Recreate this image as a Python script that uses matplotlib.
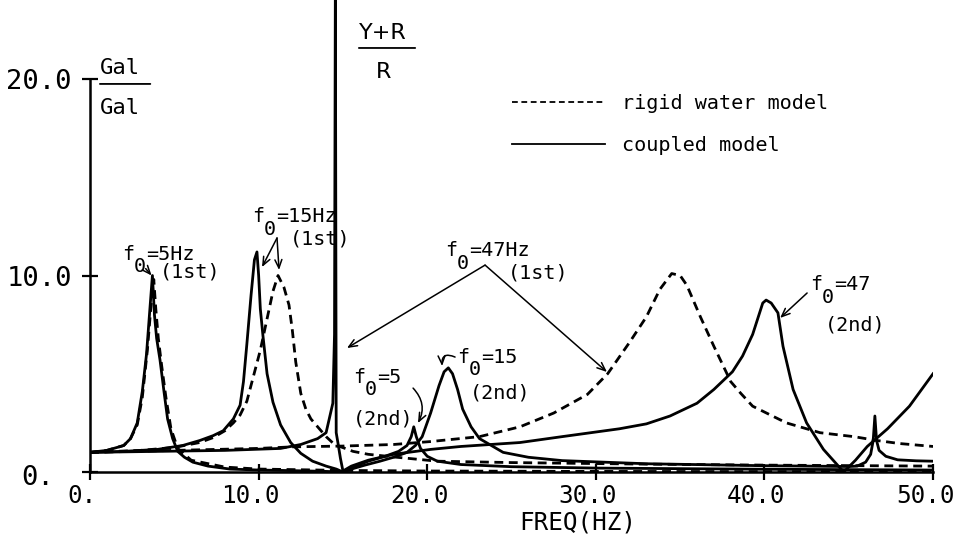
import matplotlib
matplotlib.use("Agg")
import matplotlib.pyplot as plt
from matplotlib.lines import Line2D
from matplotlib.transforms import ScaledTranslation

# --- response curves (freq in Hz, amplification Gal/Gal) ---

# coupled model, f0 = 5 Hz (1st peak ~3.7, 2nd peak ~19.2)
c5_freq = [0, 1, 2, 2.4, 2.8, 3.1, 3.35, 3.55, 3.7, 3.82, 3.95, 4.15, 4.4, 4.6, 4.9, 5.2,
           5.6, 6.1, 7.0, 8.3, 10, 12, 14, 15.0, 15.6, 16.5, 17.5, 18.3, 18.8, 19.05, 19.2,
           19.35, 19.6, 20.0, 20.6, 22, 25, 30, 35, 40, 45, 50]
c5_amp = [1.0, 1.1, 1.35, 1.7, 2.5, 4.1, 6.0, 8.3, 10.0, 8.0, 6.8, 5.7, 4.0, 2.7, 1.7, 1.05,
          0.75, 0.5, 0.3, 0.15, 0.1, 0.07, 0.03, 0.0, 0.25, 0.55, 0.8, 1.05, 1.35, 1.8, 2.3,
          1.8, 1.2, 0.8, 0.55, 0.38, 0.27, 0.2, 0.17, 0.14, 0.12, 0.1]

# coupled model, f0 = 15 Hz (1st ~9.9, 2nd ~21.2, 3rd spike ~46.5)
c15_freq = [0, 2, 4, 5.5, 6.5, 7.3, 7.9, 8.5, 8.9, 9.1, 9.3, 9.55, 9.75, 9.9, 10.0, 10.1,
            10.26, 10.5, 10.85, 11.3, 11.9, 12.5, 13.2, 14.0, 14.6, 15.0, 15.5, 16.3, 17.2,
            18.0, 18.8, 19.3, 19.7, 20.2, 20.7, 21.0, 21.25, 21.5, 21.8, 22.1, 22.6, 23.1,
            24.5, 26, 28, 33, 40, 45, 45.5, 46.0, 46.3, 46.45, 46.55, 46.65, 46.8, 47.2,
            47.9, 49, 50]
c15_amp = [1.0, 1.05, 1.15, 1.35, 1.6, 1.85, 2.1, 2.7, 3.4, 4.6, 6.5, 9.0, 10.8, 11.2, 10.0,
           8.3, 6.9, 5.0, 3.55, 2.4, 1.5, 0.95, 0.55, 0.3, 0.15, 0.0, 0.15, 0.35, 0.55, 0.75,
           1.0, 1.35, 1.8, 3.0, 4.4, 5.1, 5.3, 5.0, 4.2, 3.2, 2.3, 1.7, 1.0, 0.75, 0.58,
           0.42, 0.32, 0.28, 0.3, 0.5, 0.9, 1.6, 2.85, 1.6, 1.1, 0.8, 0.62, 0.57, 0.55]

# coupled model, f0 = 47 Hz (1st spike ~14.55, 2nd ~40.1)
c47_freq = [0, 4, 8, 11.3, 12.5, 13.5, 14.0, 14.4, 14.5, 14.55, 14.6, 14.7, 14.85, 15.0,
            15.5, 16.5, 18, 20.2, 22, 25.5, 28, 31.4, 33, 34.4, 36, 37, 38.1, 38.7, 39.3,
            39.6, 39.9, 40.1, 40.4, 40.8, 41.1, 41.7, 42.5, 43.5, 44.7, 45.4, 46.1, 47.3,
            48.6, 50]
c47_amp = [1.0, 1.05, 1.1, 1.2, 1.4, 1.7, 2.0, 3.5, 7.0, 25.0, 2.0, 1.5, 0.7, 0.05,
           0.3, 0.6, 0.9, 1.15, 1.3, 1.5, 1.8, 2.2, 2.45, 2.85, 3.5, 4.2, 5.1, 5.9, 7.0,
           7.8, 8.6, 8.75, 8.6, 8.1, 6.4, 4.2, 2.5, 1.15, 0.0, 0.6, 1.3, 2.2,
           3.35, 5.0]

# rigid water model, f0 = 5 Hz
r5_freq = [0, 1, 2, 2.4, 2.8, 3.1, 3.4, 3.6, 3.78, 3.9, 4.05, 4.25, 4.5, 4.8, 5.2, 6.0,
           8, 10, 15, 20, 30, 40, 50]
r5_amp = [1.0, 1.1, 1.35, 1.7, 2.4, 3.8, 6.2, 8.3, 9.8, 8.3, 6.8, 5.4, 3.8, 2.2, 1.2, 0.6,
          0.25, 0.15, 0.08, 0.05, 0.03, 0.02, 0.02]

# rigid water model, f0 = 15 Hz
r15_freq = [0, 3, 5, 6.5, 7.3, 8.0, 8.5, 8.9, 9.3, 9.7, 10.1, 10.5, 10.85, 11.15, 11.5,
            11.8, 12.0, 12.2, 12.5, 12.8, 13.1, 13.5, 14.0, 14.5, 15.6, 16.5, 18.2, 20.6,
            25, 33, 40, 50]
r15_amp = [1.0, 1.1, 1.25, 1.5, 1.75, 2.1, 2.5, 2.9, 3.6, 4.9, 6.2, 7.8, 9.2, 10.0, 9.4,
           8.5, 7.2, 5.6, 4.0, 3.2, 2.7, 2.3, 1.8, 1.4, 1.05, 0.9, 0.75, 0.55, 0.48, 0.4,
           0.35, 0.3]

# rigid water model, f0 = 47 Hz
r47_freq = [0, 5, 10, 12, 15, 18, 20.2, 23.1, 25.5, 27.5, 29.5, 30.7, 32.0, 33.0, 33.8,
            34.5, 35.0, 35.4, 36.2, 37.0, 38.0, 38.6, 39.3, 41.3, 43.3, 45.3, 46.7, 48, 50]
r47_amp = [1.0, 1.1, 1.2, 1.28, 1.32, 1.4, 1.55, 1.8, 2.3, 3.0, 3.95, 5.0, 6.6, 7.9, 9.3,
           10.1, 10.0, 9.5, 7.9, 6.4, 4.6, 4.0, 3.35, 2.5, 2.0, 1.8, 1.6, 1.45, 1.3]

x_ticks = [0, 10, 20, 30, 40, 50]
x_tick_labels = ["0.", "10.0", "20.0", "30.0", "40.0", "50.0"]
y_ticks = [0, 10, 20]
y_tick_labels = ["0.", "10.0", "20.0"]

MONO = "DejaVu Sans Mono"
LW = 2.0
DASH = (0, (3.2, 2.0))

fig = plt.figure(figsize=(9.62, 5.34), dpi=100)
ax = fig.add_axes([0.0936, 0.1161, 0.8763, 0.8831])

for f, a in [(c5_freq, c5_amp), (c15_freq, c15_amp), (c47_freq, c47_amp)]:
    ax.plot(f, a, color="black", lw=LW, solid_joinstyle="round")
for f, a in [(r5_freq, r5_amp), (r15_freq, r15_amp), (r47_freq, r47_amp)]:
    ax.plot(f, a, color="black", lw=LW, linestyle=DASH)

ax.set_xlim(0, 50)
ax.set_ylim(0, 24)
for s in ("top", "right"):
    ax.spines[s].set_visible(False)
ax.spines["left"].set_bounds(0, 20)
ax.spines["bottom"].set_bounds(0, 50)
for s in ("left", "bottom"):
    ax.spines[s].set_linewidth(1.8)

ax.set_xticks(x_ticks, labels=x_tick_labels, fontsize=17.5, family=MONO)
ax.set_yticks(y_ticks, labels=y_tick_labels, fontsize=19.5, family=MONO)
ax.tick_params(direction="inout", length=12, width=1.6)
ax.tick_params(axis="x", pad=2.5)
ax.tick_params(axis="y", pad=7)

# labels in the scan sit a little left of their ticks
for lab in ax.get_xticklabels():
    lab.set_transform(lab.get_transform() + ScaledTranslation(-8 / 100, 0, fig.dpi_scale_trans))
ylabs = ax.get_yticklabels()
ylabs[0].set_transform(ylabs[0].get_transform() + ScaledTranslation(-18 / 100, -3 / 100, fig.dpi_scale_trans))

ax.set_xlabel("FREQ(HZ)", fontsize=17.5, family=MONO)
ax.xaxis.set_label_coords(0.578, -0.1065)
ax.xaxis.label.set_va("center")

# legend
handles = [Line2D([], [], color="black", lw=1.3, linestyle=DASH),
           Line2D([], [], color="black", lw=1.3)]
ax.legend(handles, ["rigid water model", "coupled model"], loc="upper left",
          bbox_to_anchor=(512 / 962, 1 - 94 / 534), bbox_transform=fig.transFigure,
          frameon=False, prop={"family": MONO, "size": 14.5}, handlelength=4.6,
          handletextpad=0.85, labelspacing=1.15, borderpad=0, borderaxespad=0)

# unit fractions
FS = 14.5
CW = 0.602 * FS  # monospace advance, points
ax.text(1.78, 20.56, "Gal", family=MONO, fontsize=16, ha="center", va="center")
ax.text(1.78, 18.52, "Gal", family=MONO, fontsize=16, ha="center", va="center")
ax.annotate("", xy=(3.74, 19.75), xytext=(0.42, 19.75), arrowprops=dict(arrowstyle="-", lw=1.3))
ax.text(17.38, 22.34, "Y+R", fontsize=16, ha="center", va="center")
ax.text(17.38, 20.36, "R", fontsize=16, ha="center", va="center")
ax.annotate("", xy=(19.45, 21.58), xytext=(15.78, 21.58), arrowprops=dict(arrowstyle="-", lw=1.3))


def f0_label(x, y, rest, mode_x, mode_y, mode):
    ax.text(x, y, "f", family=MONO, fontsize=FS, va="baseline")
    ax.annotate("0", xy=(x, y), xytext=(CW, -0.62 * FS), textcoords="offset points",
                family=MONO, fontsize=FS, va="baseline")
    ax.annotate(rest, xy=(x, y), xytext=(2 * CW, 0), textcoords="offset points",
                family=MONO, fontsize=FS, va="baseline")
    ax.text(mode_x, mode_y, mode, family=MONO, fontsize=FS, va="baseline")


f0_label(1.90, 10.80, "=5Hz", 4.15, 9.90, "(1st)")
f0_label(9.61, 12.72, "=15Hz", 11.86, 11.60, "(1st)")
f0_label(21.06, 10.99, "=47Hz", 24.79, 9.87, "(1st)")
f0_label(15.60, 4.53, "=5", 15.60, 2.44, "(2nd)")
f0_label(21.77, 5.55, "=15", 22.54, 3.72, "(2nd)")
f0_label(42.70, 9.26, "=47", 43.59, 7.18, "(2nd)")

arrow = dict(arrowstyle="->,head_length=0.6,head_width=0.25", lw=1.1, color="black",
             shrinkA=0, shrinkB=0)
for start, end, rad in [((11.09, 11.91), (10.2, 10.43), 0),
                        ((11.09, 11.91), (11.21, 10.28), 0),
                        ((23.43, 10.53), (15.24, 6.31), 0),
                        ((23.43, 10.53), (30.66, 5.09), 0),
                        ((42.53, 9.11), (40.93, 7.84), 0),
                        ((19.16, 4.27), (19.45, 2.49), -0.35),
                        ((21.65, 5.85), (20.88, 5.39), 0.8),
                        ((3.3, 10.35), (3.65, 10.0), 0)]:
    ax.annotate("", xy=end, xytext=start,
                arrowprops=dict(arrow, connectionstyle=f"arc3,rad={rad}"))

fig.savefig("out.png", dpi=100)
